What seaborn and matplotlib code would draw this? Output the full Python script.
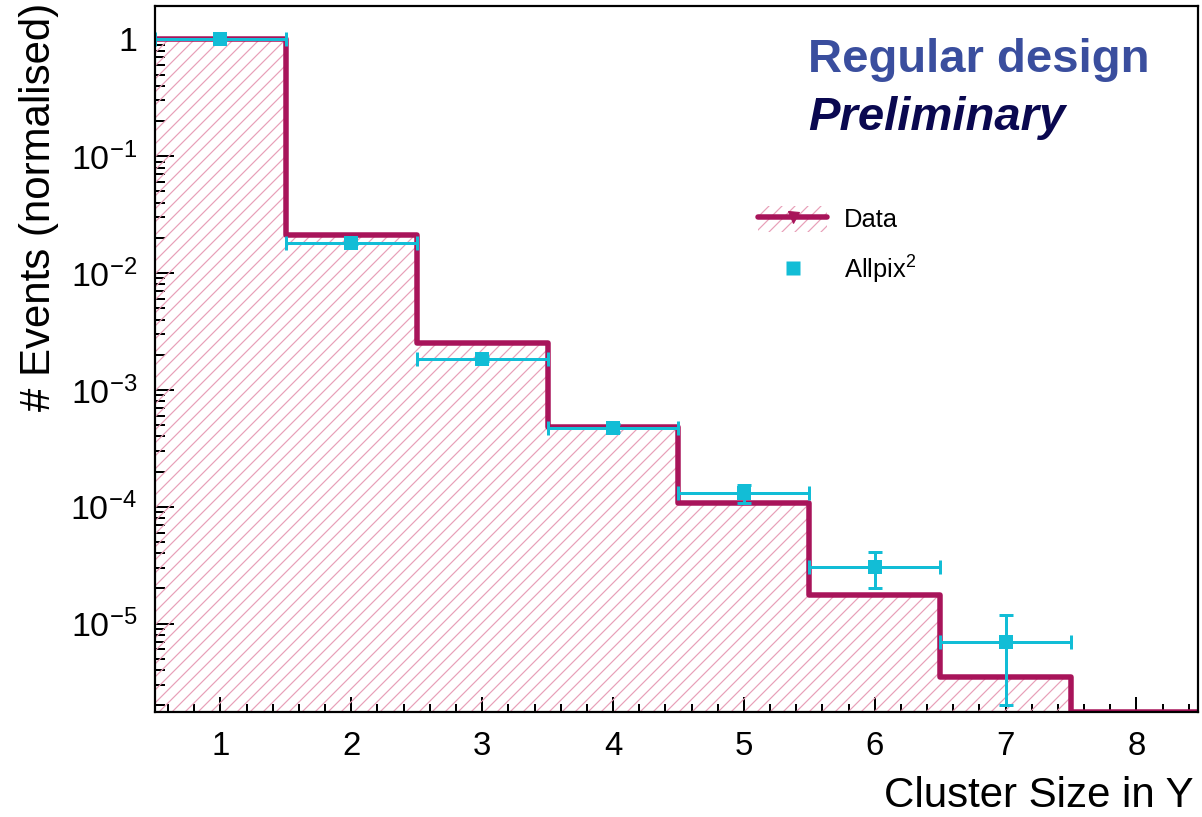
import numpy as np
import matplotlib
matplotlib.use("Agg")
import matplotlib.pyplot as plt
from matplotlib.ticker import MultipleLocator, LogLocator, NullFormatter
from matplotlib.patches import Patch
from matplotlib.lines import Line2D
import seaborn as sns

# ---- data -------------------------------------------------------------
cluster_size = [1, 2, 3, 4, 5, 6, 7, 8]
data_events = [1.0, 2.11e-2, 2.52e-3, 4.83e-4, 1.08e-4, 1.74e-5, 3.52e-6, 1.75e-6]

sim_size = [1, 2, 3, 4, 5, 6, 7]
sim_events = [1.0, 1.80e-2, 1.84e-3, 4.73e-4, 1.30e-4, 3.05e-5, 6.9e-6]
sim_err = [3.4e-3, 2.5e-4, 8.0e-5, 4.0e-5, 2.2e-5, 1.05e-5, 4.9e-6]

bin_edges = [0.5, 1.5, 2.5, 3.5, 4.5, 5.5, 6.5, 7.5, 8.5]
x_ticks = [1, 2, 3, 4, 5, 6, 7, 8]
y_ticks = [1e-5, 1e-4, 1e-3, 1e-2, 1e-1, 1]
y_tick_labels = [r"$10^{-5}$", r"$10^{-4}$", r"$10^{-3}$", r"$10^{-2}$", r"$10^{-1}$", "1"]

# ---- style ------------------------------------------------------------
W, H, DPI = 1202, 817, 78


def px(v):
    """pixels -> points at the figure resolution"""
    return v * 72.0 / DPI


CRIMSON = "#A8145A"
HATCH = "#E8A0B8"
CYAN = "#12BDD6"
BLUE = "#3A4E9E"
NAVY = "#0A0850"

sns.set_style("ticks")
plt.rcParams["font.family"] = ["Liberation Sans", "DejaVu Sans"]
plt.rcParams["mathtext.fontset"] = "custom"
plt.rcParams["mathtext.rm"] = "Liberation Sans"
plt.rcParams["mathtext.it"] = "Liberation Sans:italic"
plt.rcParams["mathtext.bf"] = "Liberation Sans:bold"
plt.rcParams["hatch.linewidth"] = px(1.2)
for key in ("text.color", "axes.labelcolor", "xtick.color", "ytick.color",
            "xtick.labelcolor", "ytick.labelcolor"):
    plt.rcParams[key] = "black"

fig = plt.figure(figsize=(W / DPI, H / DPI), dpi=DPI)
ax = fig.add_axes([155 / W, 1 - 712 / H, (1198 - 155) / W, (712 - 6) / H])
ax.set_yscale("log")

# hatched area under the measured distribution
sns.histplot(x=cluster_size, weights=data_events, bins=bin_edges,
             element="step", fill=True, color=HATCH, facecolor="none",
             edgecolor=HATCH, linewidth=0, hatch="//", ax=ax, zorder=1)
# measured distribution outline
sns.histplot(x=cluster_size, weights=data_events, bins=bin_edges,
             element="step", fill=False, color=CRIMSON, linewidth=px(5.5),
             ax=ax, zorder=2)

# simulation points with bin-width and statistical errors
ax.errorbar(sim_size, sim_events, xerr=0.5, yerr=sim_err, fmt="none",
            ecolor=CYAN, elinewidth=px(3), capsize=px(7), capthick=px(3),
            zorder=4)
sns.scatterplot(x=sim_size, y=sim_events, marker="s", s=px(14) ** 2,
                color=CYAN, edgecolor="none", linewidth=0, zorder=5,
                legend=False, ax=ax)

# ---- axes -------------------------------------------------------------
ax.set_xlim(0.5, 8.47)
ax.set_ylim(1.75e-6, 1.93)
ax.set_xticks(x_ticks)
ax.xaxis.set_minor_locator(MultipleLocator(0.2))
ax.set_yticks(y_ticks, labels=y_tick_labels)
ax.yaxis.set_minor_locator(LogLocator(base=10, subs=np.arange(2, 10), numticks=20))
ax.yaxis.set_minor_formatter(NullFormatter())
ax.set_xlabel("")
ax.set_ylabel("")

ax.tick_params(axis="both", which="both", direction="in", top=False,
               right=False, width=px(2), color="black", labelcolor="black")
ax.tick_params(axis="y", which="major", length=px(19), pad=px(18),
               labelsize=px(34))
ax.tick_params(axis="y", which="minor", length=px(10))
ax.tick_params(axis="x", which="major", length=px(15), pad=px(19),
               labelsize=px(33))
ax.tick_params(axis="x", which="minor", length=px(8))
for sp in ax.spines.values():
    sp.set_visible(True)
    sp.set_linewidth(px(2.2))
    sp.set_color("black")
    sp.set_zorder(6)

# ---- legend -----------------------------------------------------------
h_data = (Patch(facecolor="none", edgecolor=HATCH, hatch="//", linewidth=0),
          Line2D([], [], color=CRIMSON, lw=px(5.5), marker="v",
                 markersize=px(11), markerfacecolor=CRIMSON,
                 markeredgecolor=CRIMSON))
h_sim = Line2D([], [], linestyle="none", marker="s", markersize=px(14),
               color=CYAN, markeredgecolor="none")
leg_fs = 25.5
ax.legend([h_data, h_sim], ["Data", r"Allpix$^{2}$"], loc="upper left",
          bbox_to_anchor=(758 / W, 1 - 206 / H),
          bbox_transform=fig.transFigure, frameon=False,
          prop={"size": px(leg_fs)}, handlelength=69 / leg_fs,
          handleheight=30 / leg_fs, handletextpad=17 / leg_fs,
          labelspacing=0.85, borderpad=0, borderaxespad=0)

# ---- labels -----------------------------------------------------------
fig.text(1194 / W, 1 - 807 / H, "Cluster Size in Y", ha="right",
         va="baseline", fontsize=px(42))
fig.text(39 / W, 1 - 3 / H, "# Events (normalised)", rotation=90,
         ha="center", va="top", fontsize=px(42))
fig.text(808 / W, 1 - 72 / H, "Regular design", ha="left", va="baseline",
         fontsize=px(47.3), fontweight="bold", color=BLUE)
fig.text(808 / W, 1 - 130 / H, "Preliminary", ha="left", va="baseline",
         fontsize=px(47.2), fontweight="bold", fontstyle="italic", color=NAVY)

fig.savefig("out.png", dpi=DPI)
